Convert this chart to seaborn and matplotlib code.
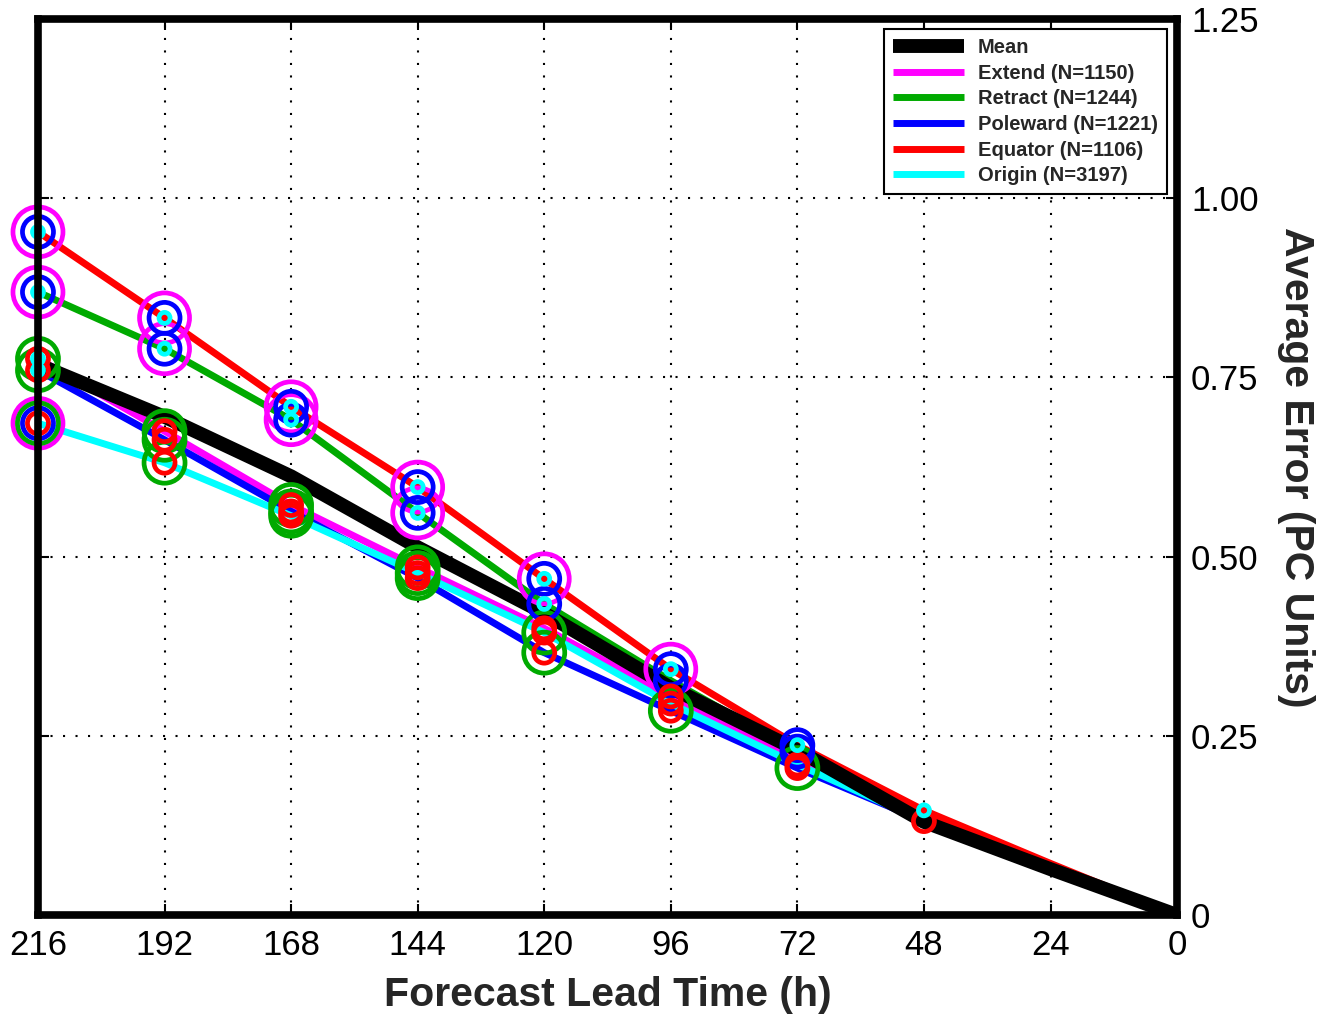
import numpy as np
import pandas as pd
import matplotlib
matplotlib.use('Agg')
import matplotlib.pyplot as plt
from matplotlib.lines import Line2D
import seaborn as sns

# ---------------- data ----------------
lead_times   = [216, 192, 168, 144, 120, 96, 72, 48, 24, 0]
mean_err     = [0.768, 0.695, 0.612, 0.513, 0.421, 0.317, 0.230, 0.130, 0.064, 0.0]
extend_err   = [0.776, 0.675, 0.572, 0.485, 0.400, 0.305, 0.215, 0.135, 0.066, 0.0]
retract_err  = [0.869, 0.790, 0.691, 0.561, 0.434, 0.327, 0.228, 0.140, 0.068, 0.0]
poleward_err = [0.760, 0.663, 0.563, 0.470, 0.366, 0.285, 0.205, 0.131, 0.064, 0.0]
equator_err  = [0.953, 0.833, 0.709, 0.597, 0.469, 0.343, 0.237, 0.146, 0.072, 0.0]
origin_err   = [0.686, 0.631, 0.557, 0.477, 0.394, 0.295, 0.210, 0.131, 0.064, 0.0]

categories = ['Extend', 'Retract', 'Poleward', 'Equator', 'Origin']
counts     = [1150, 1244, 1221, 1106, 3197]

# significantly different pairs at each lead time
sig_pairs_216 = [('Equator', 'Origin'), ('Equator', 'Poleward'), ('Equator', 'Extend'),
                 ('Retract', 'Origin'), ('Retract', 'Poleward'), ('Retract', 'Extend'),
                 ('Origin', 'Extend'), ('Origin', 'Poleward')]
sig_pairs_192 = [('Equator', 'Origin'), ('Equator', 'Poleward'), ('Equator', 'Extend'),
                 ('Retract', 'Origin'), ('Retract', 'Poleward'), ('Retract', 'Extend')]
sig_pairs_168 = sig_pairs_192
sig_pairs_144 = sig_pairs_192
sig_pairs_120 = [('Equator', 'Origin'), ('Equator', 'Poleward'), ('Equator', 'Extend'),
                 ('Retract', 'Origin'), ('Retract', 'Poleward')]
sig_pairs_96  = [('Equator', 'Origin'), ('Equator', 'Poleward'), ('Equator', 'Extend'),
                 ('Retract', 'Poleward')]
sig_pairs_72  = [('Equator', 'Origin'), ('Equator', 'Poleward'), ('Retract', 'Poleward')]
sig_pairs_48  = [('Equator', 'Origin')]

# ---------------- styles ----------------
colors = {'Mean': 'black', 'Extend': '#ff00ff', 'Retract': '#00aa00',
          'Poleward': '#0000ff', 'Equator': '#ff0000', 'Origin': '#00ffff'}
ring_diam_px = {'Extend': 50, 'Retract': 41, 'Poleward': 31, 'Equator': 21, 'Origin': 11}

sns.set_theme(style='white')
plt.rcParams['font.family'] = ['Liberation Sans', 'DejaVu Sans']

series = {'Extend': extend_err, 'Retract': retract_err, 'Poleward': poleward_err,
          'Equator': equator_err, 'Origin': origin_err}
rows = []
for cat in categories:
    for t, v in zip(lead_times, series[cat]):
        rows.append({'lead': t, 'err': v, 'series': cat})
df = pd.DataFrame(rows)
df_mean = pd.DataFrame({'lead': lead_times, 'err': mean_err})

sig = {216: sig_pairs_216, 192: sig_pairs_192, 168: sig_pairs_168, 144: sig_pairs_144,
       120: sig_pairs_120, 96: sig_pairs_96, 72: sig_pairs_72, 48: sig_pairs_48}
ring_rows = []
for t, pairs in sig.items():
    i = lead_times.index(t)
    for a, b in pairs:
        ring_rows.append({'lead': t, 'err': series[a][i], 'ring': b})
        ring_rows.append({'lead': t, 'err': series[b][i], 'ring': a})
rings = pd.DataFrame(ring_rows)

fig = plt.figure(figsize=(13.23, 10.15), dpi=100)
ax = fig.add_axes([0.0287, 0.0985, 0.861, 0.8828])

sns.lineplot(data=df, x='lead', y='err', hue='series', hue_order=categories,
             palette=colors, linewidth=5, sort=False, estimator=None,
             legend=False, ax=ax, zorder=2, solid_capstyle='butt')
sns.lineplot(data=df_mean, x='lead', y='err', color='black', linewidth=10,
             sort=False, estimator=None, legend=False, ax=ax, zorder=2.5,
             solid_capstyle='butt')

for cat in sorted(categories, key=lambda c: -ring_diam_px[c]):
    sub = rings[rings['ring'] == cat]
    if len(sub) == 0:
        continue
    d_pt = ring_diam_px[cat] * 0.72
    sns.scatterplot(data=sub, x='lead', y='err', s=d_pt ** 2, marker='o',
                    facecolor='none', edgecolor=colors[cat], linewidth=3.4,
                    legend=False, ax=ax, zorder=3, clip_on=False)

ax.set_xlim(216, 0)
ax.set_ylim(0, 1.25)
ax.set_xticks(np.arange(216, -1, -24))
ax.set_xticklabels([str(v) for v in range(216, -1, -24)])
ax.set_yticks([0, 0.25, 0.5, 0.75, 1.0, 1.25])
ax.set_yticklabels(['0', '0.25', '0.50', '0.75', '1.00', '1.25'])
ax.grid(True, color='black', linestyle=(0, (1, 5)), linewidth=1.5)
ax.tick_params(direction='in', length=8, width=1.5, top=True, right=True,
               left=True, bottom=True, labelleft=False, labelright=True,
               labelsize=25, colors='black')
ax.tick_params(axis='x', pad=10)
ax.tick_params(axis='y', pad=10)
for sp in ax.spines.values():
    sp.set_linewidth(5.5)
    sp.set_color('black')
    sp.set_zorder(4)

ax.set_xlabel('Forecast Lead Time (h)', fontsize=29.5, fontweight='bold', labelpad=10)
ax.yaxis.set_label_position('right')
ax.set_ylabel('Average Error (PC Units)', fontsize=29.5, fontweight='bold',
              rotation=270, va='bottom', labelpad=13)

handles = [Line2D([0], [0], color='black', lw=10, solid_capstyle='butt')] + \
          [Line2D([0], [0], color=colors[c], lw=5, solid_capstyle='butt') for c in categories]
labels = ['Mean'] + [f'{c} (N={n})' for c, n in zip(categories, counts)]
leg = ax.legend(handles, labels, loc='upper right', frameon=True, fancybox=False,
                edgecolor='black', framealpha=1,
                prop={'weight': 'bold', 'size': 14.5}, handlelength=3.5,
                handletextpad=0.7, labelspacing=0.33, borderpad=0.45,
                borderaxespad=0.5)
leg.get_frame().set_linewidth(1.5)
leg.set_zorder(5)

fig.savefig('out.png', dpi=100)
